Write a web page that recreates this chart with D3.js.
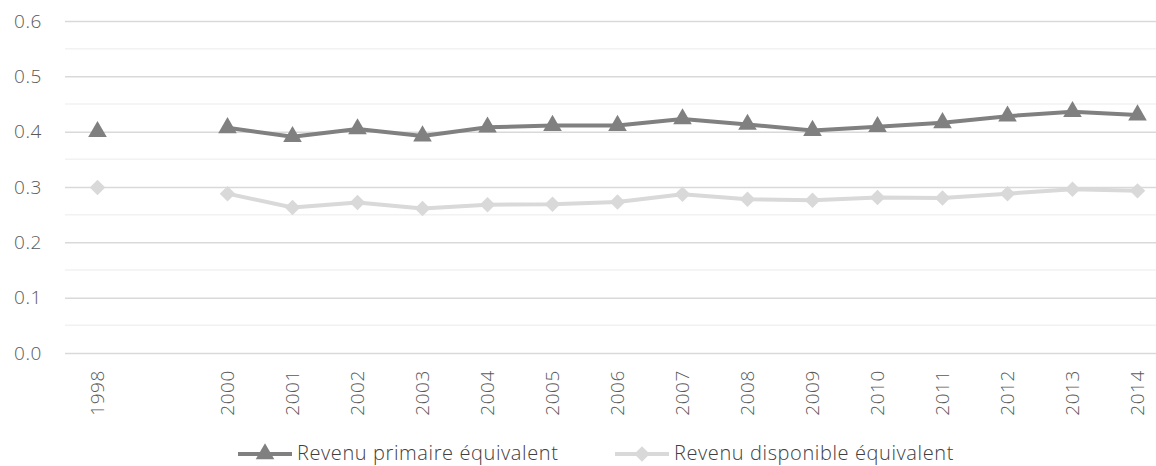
<!DOCTYPE html>
<html>
<head>
<meta charset="utf-8">
<script src="https://cdn.jsdelivr.net/npm/d3@7"></script>
<style>
  body { margin: 0; background: #fff; }
  svg text { font-family: "Open Sans", "Noto Sans", sans-serif; font-weight: 300; }
</style>
</head>
<body>
<div id="chart"></div>
<script>
// categories (1999 has no value, slot kept empty)
const years = ["1998", "1999", "2000", "2001", "2002", "2003", "2004", "2005", "2006",
    "2007", "2008", "2009", "2010", "2011", "2012", "2013", "2014"];
const yearLabels = ["1998", "", "2000", "2001", "2002", "2003", "2004", "2005", "2006",
    "2007", "2008", "2009", "2010", "2011", "2012", "2013", "2014"];

const primaire = [0.400, null, 0.407, 0.391, 0.405, 0.392, 0.408, 0.411, 0.411,
    0.423, 0.413, 0.402, 0.409, 0.416, 0.428, 0.436, 0.430];
const disponible = [0.299, null, 0.288, 0.263, 0.272, 0.261, 0.268, 0.269, 0.273,
    0.287, 0.278, 0.276, 0.281, 0.280, 0.288, 0.296, 0.293];

const yTicks = [0, 0.1, 0.2, 0.3, 0.4, 0.5, 0.6];
const yMinor = [0.05, 0.15, 0.25, 0.35, 0.45, 0.55];

const seriesNames = ["Revenu primaire équivalent", "Revenu disponible équivalent"];

const W = 1156, H = 466;
const margin = {top: 21, right: -14, bottom: 113, left: 65};
const width = W - margin.left - margin.right;
const height = H - margin.top - margin.bottom;

const svg = d3.select("#chart").append("svg")
    .attr("width", W)
    .attr("height", H);

const g = svg.append("g")
    .attr("transform", "translate(" + margin.left + "," + margin.top + ")");

const x = d3.scaleBand()
    .domain(years)
    .range([0, width]);

const y = d3.scaleLinear()
    .domain([0, 0.6])
    .range([height, 0]);

// minor gridlines
g.selectAll(".minor")
    .data(yMinor).enter()
    .append("line")
    .attr("class", "minor")
    .attr("x1", 0).attr("x2", width)
    .attr("y1", d => y(d)).attr("y2", d => y(d))
    .attr("stroke", "#f2f2f2")
    .attr("stroke-width", 1.5);

// y axis with major gridlines
const yAxis = d3.axisLeft(y)
    .tickValues(yTicks)
    .tickSize(-width)
    .tickPadding(23)
    .tickFormat(d3.format(".1f"));

g.append("g")
    .attr("class", "y-axis")
    .call(yAxis)
    .attr("font-family", null)
    .call(a => a.select(".domain").remove())
    .call(a => a.selectAll(".tick line").attr("stroke", "#d9d9d9").attr("stroke-width", 1.5))
    .call(a => a.selectAll(".tick text")
        .attr("font-size", 19)
        .attr("letter-spacing", "0.6px")
        .attr("fill", "#595959"));

// x axis
const xAxis = d3.axisBottom(x)
    .tickSize(0)
    .tickFormat((d, i) => yearLabels[i]);

g.append("g")
    .attr("class", "x-axis")
    .attr("transform", "translate(0," + height + ")")
    .call(xAxis)
    .attr("font-family", null)
    .call(a => a.select(".domain").remove())
    .call(a => a.selectAll(".tick text")
        .attr("font-size", 19)
        .attr("letter-spacing", "0.6px")
        .attr("fill", "#595959")
        .attr("transform", "rotate(-90)")
        .attr("text-anchor", "end")
        .attr("x", -17)
        .attr("y", 0)
        .attr("dy", "0.35em"));

const cx = i => x(years[i]) + x.bandwidth() / 2;

const line = d3.line()
    .defined(d => d != null)
    .x((d, i) => cx(i))
    .y(d => y(d));

const triangle = d3.symbol().type(d3.symbolTriangle).size(150);
const diamond = d3.symbol().type(d3.symbolSquare).size(120);

function drawSeries(values, color, sym, rot) {
    g.append("path")
        .datum(values)
        .attr("fill", "none")
        .attr("stroke", color)
        .attr("stroke-width", 4)
        .attr("stroke-linejoin", "round")
        .attr("d", line);

    g.selectAll(null)
        .data(values.map((v, i) => ({v: v, i: i})).filter(d => d.v != null))
        .enter()
        .append("path")
        .attr("d", sym)
        .attr("fill", color)
        .attr("transform", d => "translate(" + cx(d.i) + "," + y(d.v) + ") rotate(" + rot + ")");
}

drawSeries(disponible, "#d9d9d9", diamond, 45);
drawSeries(primaire, "#808080", triangle, 0);

// legend
const legend = svg.append("g").attr("class", "legend");
const legendItems = [
    {name: seriesNames[0], color: "#808080", sym: triangle, rot: 0, x: 238},
    {name: seriesNames[1], color: "#d9d9d9", sym: diamond, rot: 45, x: 615}
];
const ly = 454;

legendItems.forEach(function (it) {
    legend.append("line")
        .attr("x1", it.x).attr("x2", it.x + 54)
        .attr("y1", ly).attr("y2", ly)
        .attr("stroke", it.color)
        .attr("stroke-width", 4);
    legend.append("path")
        .attr("d", it.sym)
        .attr("fill", it.color)
        .attr("transform", "translate(" + (it.x + 27) + "," + ly + ") rotate(" + it.rot + ")");
    legend.append("text")
        .attr("x", it.x + 59)
        .attr("y", ly + 6)
        .attr("font-size", 20)
        .attr("letter-spacing", "0.6px")
        .attr("fill", "#404040")
        .text(it.name);
});
</script>
</body>
</html>
